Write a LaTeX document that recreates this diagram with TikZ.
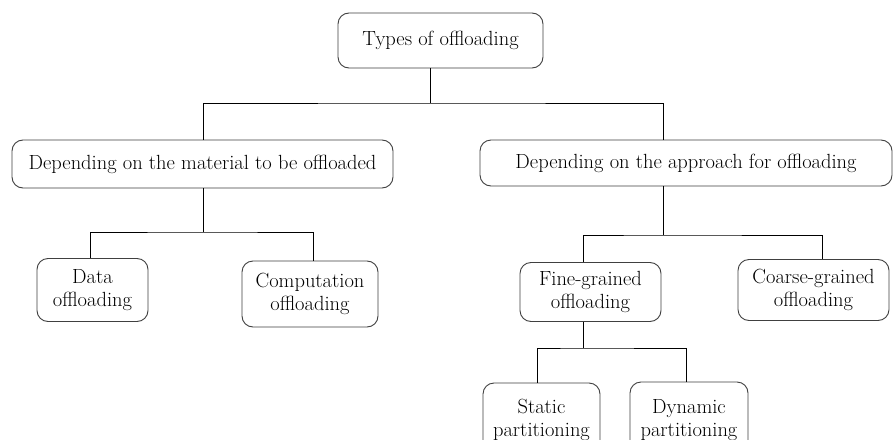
\documentclass[tikz,border=0pt]{standalone}
\usepackage{tikz}

\tikzset{
  typebox/.style={draw=black!75, line width=0.9pt, rounded corners=11pt, align=center,
    font=\fontsize{20.5}{23}\selectfont, inner sep=0pt},
  link/.style={draw=black, line width=0.9pt}
}

\begin{document}
\begin{tikzpicture}[x=1pt, y=-1pt]
    \clip (0,0) rectangle (894,439);
    \fill[white] (0,0) rectangle (894,439);

    \node[typebox, minimum width=205pt, minimum height=55pt] (types) at (440.5, 40.5) {Types of offloading};
    \node[typebox, minimum width=381pt, minimum height=48pt] (material) at (202.5, 164) {Depending on the material to be offloaded};
    \node[typebox, minimum width=412pt, minimum height=46pt] (approach) at (686, 163) {Depending on the approach for offloading};

    \node[typebox, minimum width=111pt, minimum height=63pt] (data) at (92.5, 290) {Data\\offloading};
    \node[typebox, minimum width=136pt, minimum height=66pt] (comp) at (310, 294) {Computation\\offloading};
    \node[typebox, minimum width=141pt, minimum height=59pt] (fine) at (590.5, 292) {Fine-grained\\offloading};
    \node[typebox, minimum width=151pt, minimum height=61pt] (coarse) at (813.5, 290) {Coarse-grained\\offloading};

    \node[typebox, minimum width=117pt, minimum height=74pt] (static) at (541.5, 420) {Static\\partitioning};
    \node[typebox, minimum width=118pt, minimum height=76pt] (dynamic) at (689, 420) {Dynamic\\partitioning};

    \coordinate (j1) at (430, 103);
    \coordinate (j2) at (203, 232);
    \coordinate (j3) at (663, 235);
    \coordinate (j4) at (583, 348);

    \draw[link] (types.south -| j1) -- (j1);
    \draw[link] (material.north -| j2) |- (j1) -| (approach.north -| j3);

    \draw[link] (material.south -| j2) -- (j2);
    \draw[link] (data.north -| 90, 0) |- (j2) -| (comp.north -| 313, 0);

    \draw[link] (approach.south -| j3) -- (j3);
    \draw[link] (fine.north -| j4) |- (j3) -| (coarse.north -| 822, 0);

    \draw[link] (fine.south -| j4) -- (j4);
    \draw[link] (static.north -| 537, 0) |- (j4) -| (dynamic.north -| 686, 0);
\end{tikzpicture}
\end{document}
